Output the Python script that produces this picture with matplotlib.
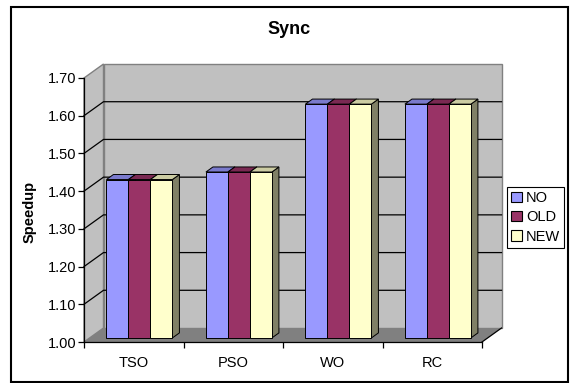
import matplotlib
matplotlib.use("Agg")
import matplotlib.pyplot as plt
from matplotlib.patches import Polygon, Rectangle, Patch
import numpy as np

plt.rcParams['font.family'] = ['Liberation Sans', 'DejaVu Sans']

# ---- data ----
title = "Sync"
ylabel = "Speedup"
categories = ["TSO", "PSO", "WO", "RC"]
series_names = ["NO", "OLD", "NEW"]
series_values = {
    "NO":  [1.42, 1.44, 1.62, 1.62],
    "OLD": [1.42, 1.44, 1.62, 1.62],
    "NEW": [1.42, 1.44, 1.62, 1.62],
}
series_colors = {"NO": "#9999FF", "OLD": "#993366", "NEW": "#FFFFCC"}
y_ticks = [1.00, 1.10, 1.20, 1.30, 1.40, 1.50, 1.60, 1.70]

# ---- styling / geometry ----
W, H = 573, 383
fig = plt.figure(figsize=(W / 100, H / 100), dpi=100)
ax = fig.add_axes([84 / W, (H - 342) / H, (482 - 84) / W, (342 - 78) / H])
ymin, ymax = y_ticks[0], y_ticks[-1]
n = len(categories)
ax.set_xlim(0, n)
ax.set_ylim(ymin, ymax)
ax.patch.set_visible(False)

# oblique depth of the 3-D box, in data units
DX = 0.196
DY = 0.0371
wall = "#C0C0C0"
edge = "#808080"

def poly(pts, **kw):
    p = Polygon(pts, closed=True, clip_on=False, **kw)
    ax.add_patch(p)
    return p

# back wall, side wall, floor
poly([(DX, ymin + DY), (n + DX, ymin + DY), (n + DX, ymax + DY), (DX, ymax + DY)],
     facecolor=wall, edgecolor=edge, lw=1.0, zorder=1)
poly([(0, ymin), (DX, ymin + DY), (DX, ymax + DY), (0, ymax)],
     facecolor=wall, edgecolor=edge, lw=1.0, zorder=1)
poly([(0, ymin), (n, ymin), (n + DX, ymin + DY), (DX, ymin + DY)],
     facecolor="#808080", edgecolor="none", zorder=2)
ax.plot([n, n + DX], [ymin, ymin + DY], color="black", lw=0.9, clip_on=False, zorder=3)

# gridlines on back and side walls
for v in y_ticks[1:-1]:
    ax.plot([0, DX, n + DX], [v, v + DY, v + DY], color="black", lw=0.9,
            clip_on=False, zorder=2)

# bars
group_w = 0.663
bar_w = group_w / len(series_names)
f0, f1 = 0.29, 0.65  # front and back depth fractions of the bars

def shade(c, k):
    rgb = np.array(matplotlib.colors.to_rgb(c)) * k
    return tuple(rgb)

for ci in range(n):
    for si, name in enumerate(series_names):
        v = series_values[name][ci]
        col = series_colors[name]
        x0 = ci + (1 - group_w) / 2 + si * bar_w + f0 * DX
        y0 = ymin + f0 * DY
        x1 = x0 + bar_w
        y1 = v + f0 * DY
        ddx = (f1 - f0) * DX
        ddy = (f1 - f0) * DY
        # right side face
        poly([(x1, y0), (x1 + ddx, y0 + ddy), (x1 + ddx, y1 + ddy), (x1, y1)],
             facecolor=shade(col, 0.5), edgecolor="black", lw=0.7, zorder=4)
        # top face
        poly([(x0, y1), (x1, y1), (x1 + ddx, y1 + ddy), (x0 + ddx, y1 + ddy)],
             facecolor=shade(col, 0.8), edgecolor="black", lw=0.7, zorder=4)
        # front face
        ax.add_patch(Rectangle((x0, y0), bar_w, y1 - y0, facecolor=col,
                               edgecolor="black", lw=0.7, zorder=5, clip_on=False))

# axes
for s in ["top", "right"]:
    ax.spines[s].set_visible(False)
for s in ["left", "bottom"]:
    ax.spines[s].set_color("black")
    ax.spines[s].set_linewidth(0.9)
    ax.spines[s].set_zorder(6)

ax.set_yticks(y_ticks)
ax.set_yticklabels([f"{t:.2f}" for t in y_ticks])
ax.tick_params(axis="y", direction="out", length=4, width=0.9, pad=1.5,
               labelsize=10.5, color="black")
ax.set_xticks(np.arange(n) + 0.5)
ax.set_xticklabels(categories)
ax.set_xticks(np.arange(n + 1), minor=True)
ax.tick_params(axis="x", which="major", length=0, pad=10, labelsize=10.5)
ax.tick_params(axis="x", which="minor", direction="out", length=4.5, width=0.9)

ax.text((30 - 84) / (482 - 84), (342 - 212) / (342 - 78), ylabel, rotation=90,
        ha="center", va="center", fontsize=10.5, fontweight="bold",
        transform=ax.transAxes)

fig.text(289.5 / W, 1 - 30 / H, title, ha="center", va="center",
         fontsize=13, fontweight="bold")

handles = [Patch(facecolor=series_colors[s], edgecolor="black", lw=0.8)
           for s in series_names]
leg = fig.legend(handles, series_names, loc="upper left",
                 bbox_to_anchor=(507 / W, 1 - 187 / H), borderaxespad=0,
                 fontsize=10.5, handlelength=0.7, handleheight=0.7,
                 handletextpad=0.3, labelspacing=0.35, borderpad=0.3,
                 fancybox=False, framealpha=1)
leg.get_frame().set_edgecolor("black")
leg.get_frame().set_linewidth(0.8)

# chart border
fig.add_artist(Rectangle((11 / W, 1 / H), (568 - 11) / W, (376 - 1) / H,
                         transform=fig.transFigure, fill=False,
                         edgecolor="black", lw=1.5))

fig.savefig("out.png", dpi=100)
